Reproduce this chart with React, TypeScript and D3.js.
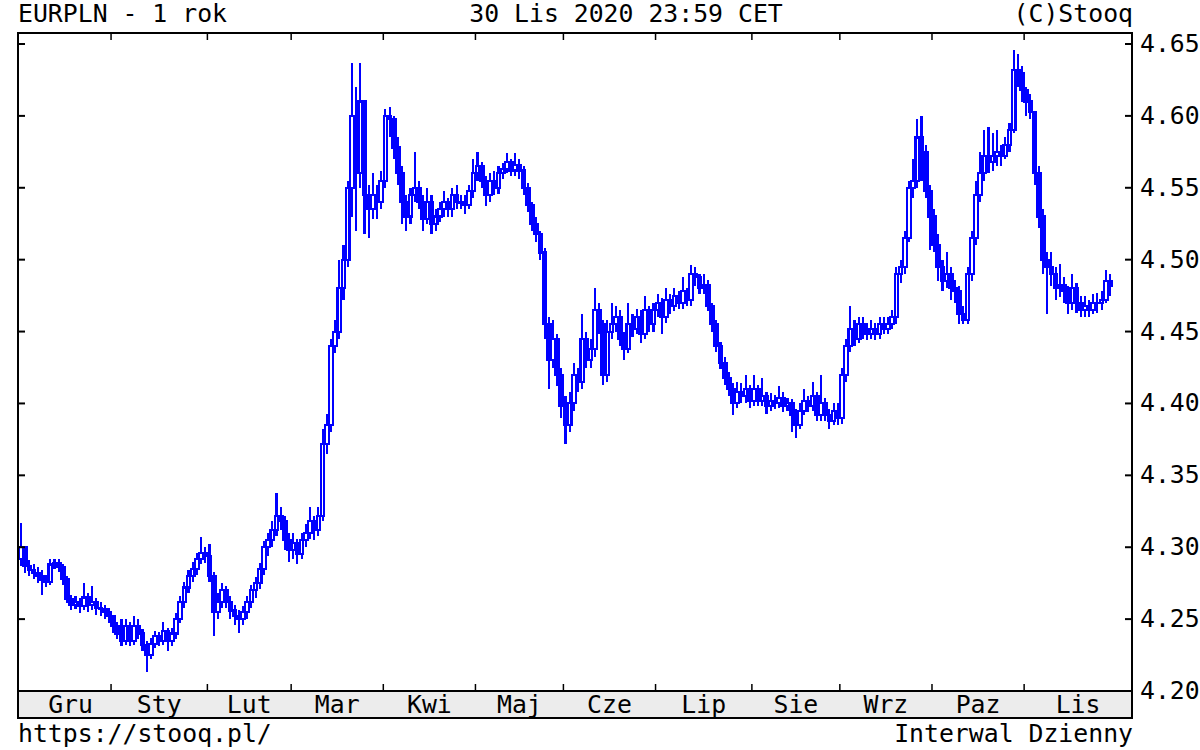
import React from "react";
import * as d3 from "d3";

const monthLabels = ["Gru", "Sty", "Lut", "Mar", "Kwi", "Maj", "Cze", "Lip", "Sie", "Wrz", "Paz", "Lis"];
const monthDays = [22, 23, 20, 22, 22, 21, 22, 23, 21, 22, 22, 21];
const yTicks = [4.2, 4.25, 4.3, 4.35, 4.4, 4.45, 4.5, 4.55, 4.6, 4.65];

const closes = [
  // Gru
  4.300, 4.287, 4.284, 4.282, 4.280, 4.277, 4.276, 4.288, 4.289, 4.286, 4.278, 4.264, 4.260, 4.262, 4.259, 4.265, 4.260, 4.262, 4.258, 4.257, 4.255, 4.252,
  // Sty
  4.245, 4.240, 4.235, 4.245, 4.235, 4.245, 4.240, 4.232, 4.225, 4.233, 4.238, 4.235, 4.242, 4.235, 4.240, 4.250, 4.262, 4.272, 4.280, 4.285, 4.292, 4.296, 4.294,
  // Lut
  4.280, 4.255, 4.262, 4.270, 4.262, 4.256, 4.252, 4.250, 4.255, 4.262, 4.270, 4.275, 4.285, 4.300, 4.305, 4.312, 4.322, 4.318, 4.305, 4.298,
  // Mar
  4.303, 4.295, 4.305, 4.310, 4.318, 4.312, 4.322, 4.372, 4.385, 4.440, 4.450, 4.480, 4.500, 4.550, 4.600, 4.560, 4.610, 4.545, 4.535, 4.545, 4.540, 4.555,
  // Kwi
  4.600, 4.598, 4.578, 4.560, 4.540, 4.530, 4.545, 4.550, 4.540, 4.528, 4.540, 4.525, 4.530, 4.535, 4.540, 4.535, 4.545, 4.540, 4.540, 4.538, 4.548, 4.560,
  // Maj
  4.565, 4.555, 4.545, 4.555, 4.550, 4.560, 4.563, 4.568, 4.562, 4.566, 4.562, 4.550, 4.538, 4.525, 4.518, 4.505, 4.455, 4.430, 4.445, 4.420, 4.398,
  // Cze
  4.385, 4.400, 4.420, 4.415, 4.445, 4.430, 4.438, 4.465, 4.455, 4.420, 4.450, 4.455, 4.460, 4.445, 4.438, 4.455, 4.452, 4.460, 4.448, 4.465, 4.455, 4.465,
  // Lip
  4.470, 4.460, 4.472, 4.468, 4.475, 4.470, 4.478, 4.472, 4.490, 4.488, 4.480, 4.482, 4.468, 4.455, 4.440, 4.428, 4.418, 4.410, 4.400, 4.408, 4.405, 4.410, 4.402,
  // Sie
  4.410, 4.402, 4.405, 4.398, 4.402, 4.400, 4.404, 4.398, 4.400, 4.392, 4.385, 4.395, 4.402, 4.398, 4.405, 4.392, 4.400, 4.392, 4.388, 4.395, 4.390,
  // Wrz
  4.420, 4.440, 4.452, 4.445, 4.455, 4.450, 4.448, 4.452, 4.448, 4.455, 4.452, 4.455, 4.460, 4.490, 4.495, 4.515, 4.550, 4.555, 4.585, 4.575, 4.548, 4.530,
  // Paz
  4.510, 4.495, 4.485, 4.490, 4.480, 4.478, 4.462, 4.458, 4.490, 4.515, 4.545, 4.560, 4.572, 4.568, 4.572, 4.575, 4.572, 4.580, 4.590, 4.632, 4.630, 4.618,
  // Lis
  4.610, 4.603, 4.560, 4.530, 4.500, 4.495, 4.490, 4.480, 4.482, 4.478, 4.470, 4.480, 4.470, 4.465, 4.468, 4.465, 4.470, 4.470, 4.472, 4.485, 4.482,
];

const highs = [
  4.317, 4.300, 4.291, 4.288, 4.286, 4.284, 4.281, 4.292, 4.292, 4.292, 4.288, 4.280, 4.267, 4.266, 4.265, 4.275, 4.268, 4.273, 4.265, 4.262, 4.260, 4.258,
  4.253, 4.248, 4.250, 4.250, 4.248, 4.252, 4.250, 4.243, 4.235, 4.237, 4.242, 4.241, 4.248, 4.244, 4.244, 4.254, 4.266, 4.276, 4.284, 4.290, 4.296, 4.307, 4.300,
  4.302, 4.283, 4.268, 4.275, 4.273, 4.266, 4.260, 4.256, 4.259, 4.266, 4.274, 4.279, 4.289, 4.304, 4.310, 4.318, 4.338, 4.328, 4.322, 4.310,
  4.310, 4.306, 4.310, 4.316, 4.328, 4.322, 4.328, 4.382, 4.393, 4.445, 4.458, 4.500, 4.510, 4.555, 4.637, 4.620, 4.637, 4.590, 4.552, 4.560, 4.552, 4.562,
  4.605, 4.606, 4.600, 4.585, 4.565, 4.545, 4.550, 4.575, 4.555, 4.545, 4.550, 4.545, 4.535, 4.540, 4.548, 4.543, 4.550, 4.552, 4.545, 4.545, 4.552, 4.570,
  4.575, 4.568, 4.558, 4.560, 4.562, 4.565, 4.567, 4.574, 4.570, 4.574, 4.570, 4.565, 4.553, 4.540, 4.530, 4.520, 4.508, 4.460, 4.458, 4.448, 4.425,
  4.405, 4.408, 4.428, 4.425, 4.462, 4.450, 4.445, 4.480, 4.470, 4.458, 4.458, 4.470, 4.468, 4.465, 4.450, 4.470, 4.462, 4.466, 4.465, 4.475, 4.468, 4.470,
  4.476, 4.473, 4.480, 4.476, 4.480, 4.478, 4.488, 4.480, 4.496, 4.495, 4.490, 4.490, 4.486, 4.470, 4.458, 4.443, 4.432, 4.422, 4.414, 4.415, 4.414, 4.420, 4.413,
  4.420, 4.413, 4.418, 4.408, 4.407, 4.406, 4.412, 4.408, 4.404, 4.403, 4.396, 4.400, 4.410, 4.405, 4.415, 4.408, 4.420, 4.404, 4.396, 4.400, 4.400,
  4.425, 4.445, 4.468, 4.458, 4.460, 4.460, 4.456, 4.458, 4.456, 4.460, 4.460, 4.460, 4.465, 4.495, 4.500, 4.520, 4.555, 4.570, 4.598, 4.600, 4.580, 4.552,
  4.535, 4.518, 4.500, 4.505, 4.495, 4.486, 4.482, 4.468, 4.495, 4.520, 4.555, 4.575, 4.590, 4.592, 4.588, 4.590, 4.580, 4.585, 4.595, 4.646, 4.643, 4.635,
  4.620, 4.615, 4.600, 4.565, 4.535, 4.505, 4.505, 4.495, 4.497, 4.488, 4.482, 4.490, 4.484, 4.475, 4.475, 4.472, 4.476, 4.477, 4.478, 4.493, 4.490,
];

const lows = [
  4.287, 4.282, 4.280, 4.278, 4.275, 4.267, 4.272, 4.274, 4.285, 4.283, 4.274, 4.261, 4.256, 4.257, 4.254, 4.256, 4.255, 4.256, 4.253, 4.252, 4.250, 4.247,
  4.240, 4.236, 4.231, 4.232, 4.231, 4.232, 4.236, 4.228, 4.213, 4.222, 4.230, 4.231, 4.232, 4.228, 4.231, 4.236, 4.247, 4.258, 4.268, 4.276, 4.281, 4.288, 4.289,
  4.276, 4.238, 4.250, 4.258, 4.258, 4.250, 4.246, 4.240, 4.246, 4.250, 4.258, 4.265, 4.271, 4.281, 4.294, 4.300, 4.308, 4.312, 4.298, 4.290,
  4.292, 4.288, 4.292, 4.300, 4.306, 4.305, 4.308, 4.318, 4.365, 4.380, 4.435, 4.445, 4.472, 4.495, 4.530, 4.520, 4.550, 4.518, 4.515, 4.528, 4.528, 4.535,
  4.550, 4.585, 4.570, 4.552, 4.525, 4.520, 4.525, 4.540, 4.535, 4.520, 4.525, 4.518, 4.520, 4.526, 4.530, 4.530, 4.530, 4.535, 4.535, 4.532, 4.535, 4.543,
  4.555, 4.550, 4.537, 4.540, 4.545, 4.546, 4.556, 4.560, 4.558, 4.558, 4.556, 4.545, 4.533, 4.520, 4.512, 4.500, 4.445, 4.410, 4.425, 4.412, 4.390,
  4.372, 4.380, 4.395, 4.408, 4.410, 4.425, 4.425, 4.432, 4.448, 4.413, 4.415, 4.445, 4.450, 4.440, 4.430, 4.435, 4.446, 4.448, 4.442, 4.445, 4.450, 4.450,
  4.460, 4.448, 4.456, 4.462, 4.464, 4.466, 4.466, 4.468, 4.468, 4.482, 4.476, 4.476, 4.464, 4.450, 4.436, 4.424, 4.413, 4.405, 4.392, 4.397, 4.400, 4.400, 4.397,
  4.398, 4.398, 4.398, 4.393, 4.395, 4.396, 4.397, 4.394, 4.395, 4.380, 4.376, 4.382, 4.392, 4.394, 4.395, 4.388, 4.388, 4.388, 4.382, 4.385, 4.385,
  4.386, 4.415, 4.436, 4.440, 4.442, 4.445, 4.444, 4.445, 4.444, 4.445, 4.448, 4.448, 4.452, 4.455, 4.484, 4.490, 4.512, 4.543, 4.550, 4.555, 4.543, 4.507,
  4.505, 4.485, 4.478, 4.480, 4.472, 4.470, 4.455, 4.455, 4.455, 4.485, 4.510, 4.540, 4.555, 4.560, 4.562, 4.565, 4.565, 4.570, 4.575, 4.588, 4.620, 4.610,
  4.600, 4.598, 4.552, 4.522, 4.490, 4.462, 4.482, 4.472, 4.474, 4.470, 4.462, 4.465, 4.463, 4.460, 4.460, 4.460, 4.462, 4.463, 4.465, 4.470, 4.475,
];

const firstOpen = 4.292;

const W = 1200;
const H = 750;
const left = 18;
const right = 1132;
const top = 33;
const bottom = 691;
const bandBottom = 718;
const BLUE = "#0000ff";
const FONT = "'DejaVu Sans Mono', monospace";
const FS = 24.8;

export default function App() {
  const n = closes.length;
  const x = d3.scaleLinear().domain([0, n - 1]).range([21, 1110]);
  const step = x(1) - x(0);
  const y = d3.scaleLinear().domain([4.2, 4.65]).range([bottom, 44]);

  const candles = closes.map((c, i) => {
    const o = i === 0 ? firstOpen : closes[i - 1];
    return { o, c, h: highs[i], l: lows[i], i };
  });

  const starts: number[] = [];
  let acc = 0;
  monthDays.forEach((d) => {
    starts.push(acc);
    acc += d;
  });
  const tickXs = starts.slice(1).map((s) => x(s) - step / 2);
  const bounds = [left + 12, ...tickXs, right];

  const bw = 3.6;
  const sw = 2.1;

  return (
    <svg
      width={W}
      height={H}
      style={{ position: "absolute", left: 0, top: 0, display: "block", background: "#fff" }}
      fontFamily={FONT}
      fontSize={FS}
    >
      <rect x={0} y={0} width={W} height={H} fill="#fff" />
      {/* header */}
      <text x={18} y={22} fill="#000">EURPLN - 1 rok</text>
      <text x={626} y={22} textAnchor="middle" fill="#000">30 Lis 2020 23:59 CET</text>
      <text x={1133} y={22} textAnchor="end" fill="#000">(C)Stooq</text>

      {/* x band */}
      <rect x={left} y={bottom} width={right - left} height={bandBottom - bottom} fill="#ececec" stroke="#000" strokeWidth={2} />
      {monthLabels.map((m, k) => (
        <text key={m} x={(bounds[k] + bounds[k + 1]) / 2} y={713} textAnchor="middle" fill="#000">
          {m}
        </text>
      ))}

      {/* candles */}
      <g shapeRendering="crispEdges">
        {candles.map((d) => {
          const cx = x(d.i);
          const yTop = y(Math.max(d.o, d.c));
          const yBot = y(Math.min(d.o, d.c));
          const up = d.c >= d.o;
          return (
            <g key={d.i}>
              <line x1={cx} x2={cx} y1={y(d.h)} y2={y(d.l)} stroke={BLUE} strokeWidth={sw} />
              <rect
                x={cx - bw / 2}
                y={yTop}
                width={bw}
                height={Math.max(0.5, yBot - yTop)}
                fill={up ? "#fff" : BLUE}
                stroke={BLUE}
                strokeWidth={sw}
              />
            </g>
          );
        })}
      </g>

      {/* plot frame */}
      <rect x={left} y={top} width={right - left} height={bottom - top} fill="none" stroke="#000" strokeWidth={2} />

      {/* month ticks */}
      {tickXs.map((tx, k) => (
        <g key={k}>
          <line x1={tx} x2={tx} y1={top} y2={top + 7} stroke="#000" strokeWidth={1.5} />
          <line x1={tx} x2={tx} y1={bottom} y2={bottom - 7} stroke="#000" strokeWidth={1.5} />
        </g>
      ))}

      {/* y ticks and labels */}
      {yTicks.map((t) => (
        <g key={t}>
          <line x1={left} x2={left + 7} y1={y(t)} y2={y(t)} stroke="#000" strokeWidth={2} />
          <line x1={right} x2={right - 7} y1={y(t)} y2={y(t)} stroke="#000" strokeWidth={2} />
          <text x={1140} y={y(t) + 8} fill="#000">
            {t.toFixed(2)}
          </text>
        </g>
      ))}

      {/* footer */}
      <text x={18} y={742} fill="#000">https://stooq.pl/</text>
      <text x={1133} y={742} textAnchor="end" fill="#000">Interwal Dzienny</text>
    </svg>
  );
}
